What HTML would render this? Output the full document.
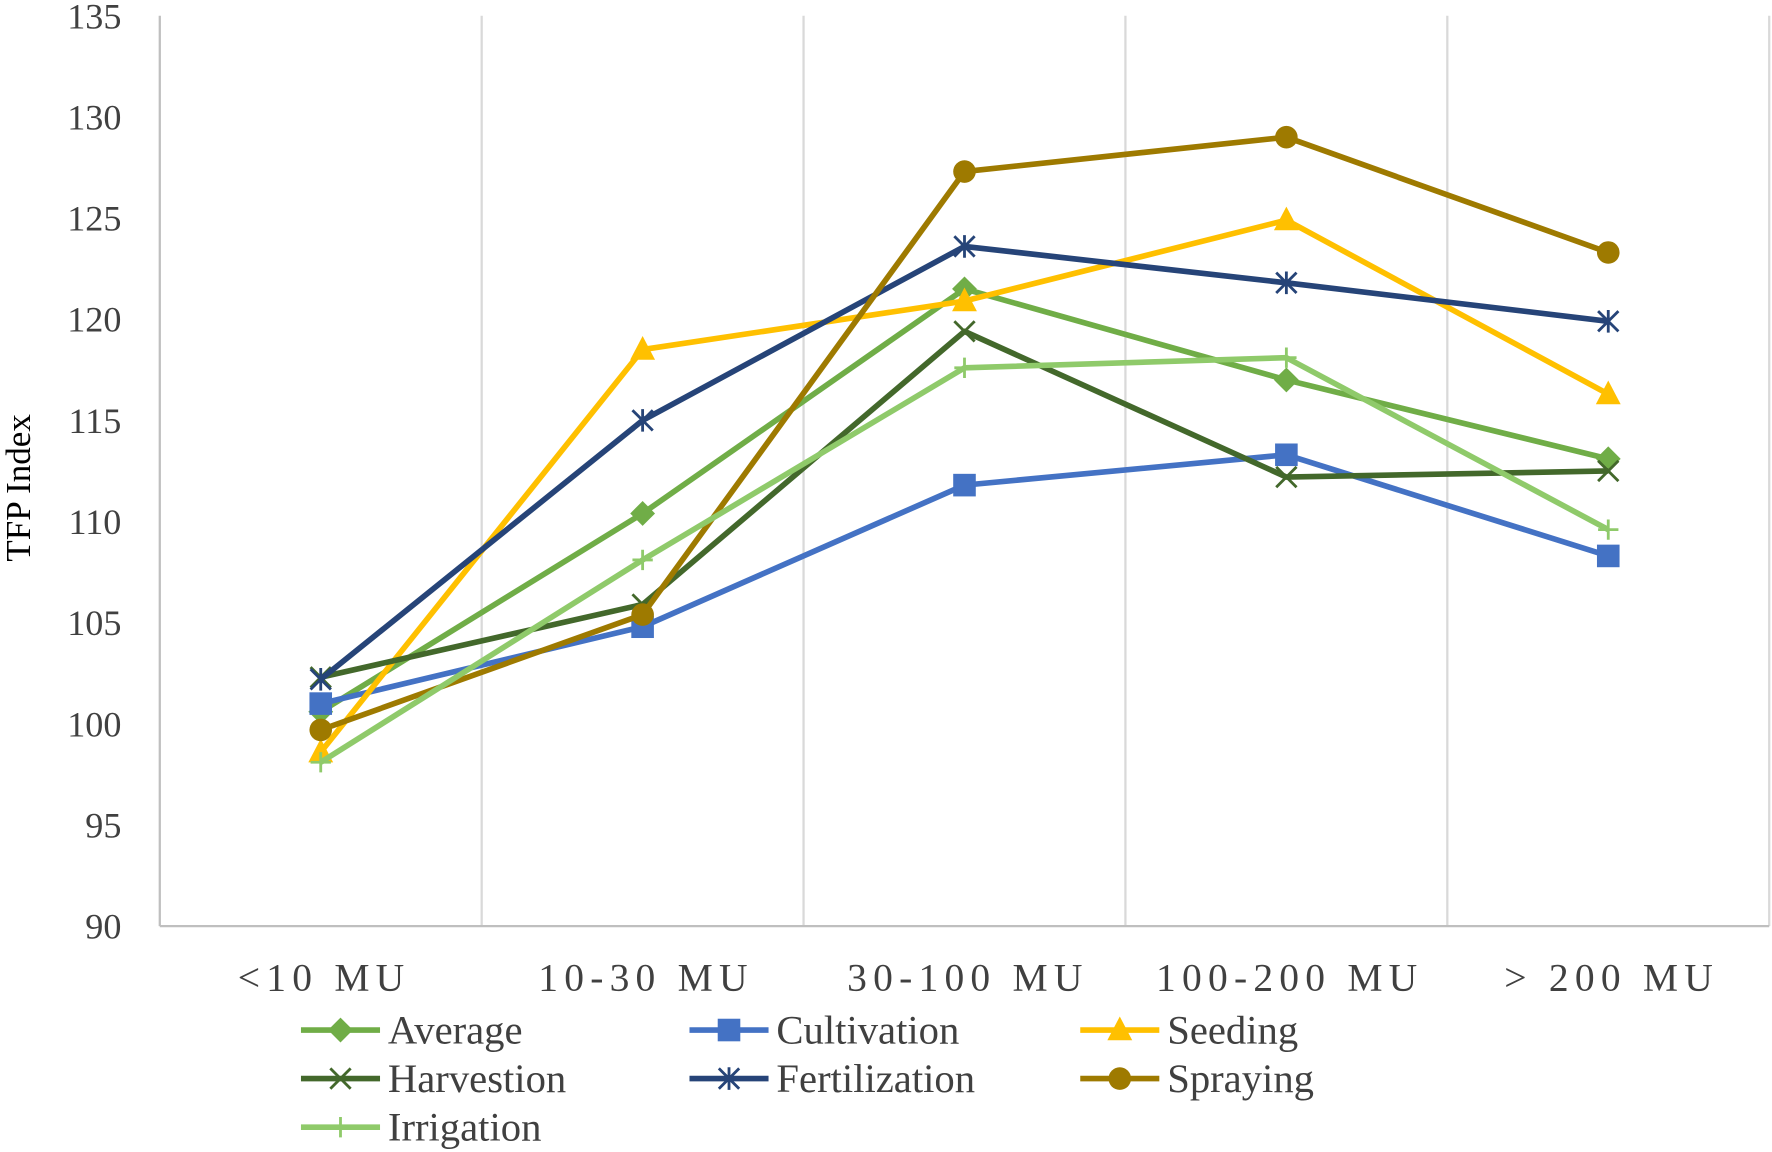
<!DOCTYPE html>
<html><head><meta charset="utf-8"><style>
html,body{margin:0;padding:0;background:#fff;}
svg{display:block;font-family:"Liberation Serif",serif;}
</style></head><body>
<svg id="chart" width="1772" height="1152" viewBox="0 0 1568 1020" xmlns="http://www.w3.org/2000/svg">
<g id="grid"></g>
<g id="axes"></g>
<g id="series"></g>
<g id="legend"></g>
<text transform="translate(26,432) rotate(-90)" text-anchor="middle" font-size="31">TFP Index</text>
</svg>
<script>
const categories = ["<10 MU","10-30 MU","30-100 MU","100-200 MU","> 200 MU"];
const yTicks = [90,95,100,105,110,115,120,125,130,135];
const seriesNames = ["Average","Cultivation","Seeding","Harvestion","Fertilization","Spraying","Irrigation"];
const avgValues = [100.6,110.4,121.5,117.0,113.1];
const cultivationValues = [101.0,104.8,111.8,113.3,108.3];
const seedingValues = [98.6,118.5,120.9,124.9,116.3];
const harvestionValues = [102.3,105.9,119.4,112.2,112.5];
const fertilizationValues = [102.2,115.0,123.6,121.8,119.9];
const sprayingValues = [99.7,105.4,127.3,129.0,123.3];
const irrigationValues = [98.1,108.1,117.6,118.1,109.6];

const NS="http://www.w3.org/2000/svg";
const L=141,R=1566,T=14,B=820,yMin=90,yMax=135;
const bw=(R-L)/categories.length;
const xS=i=>L+bw*(i+0.5);
const yS=v=>B-(v-yMin)/(yMax-yMin)*(B-T);
function mk(tag,attrs,parent){const e=document.createElementNS(NS,tag);for(const k in attrs)e.setAttribute(k,attrs[k]);parent.appendChild(e);return e;}
const grid=document.getElementById('grid'),axes=document.getElementById('axes'),sg=document.getElementById('series'),lg=document.getElementById('legend');
for(let i=0;i<=categories.length;i++){
  const x=L+bw*i;
  const ln=mk('line',{x1:x,x2:x,y1:T,y2:B,stroke:i==0?'#bfbfbf':'#d9d9d9','stroke-width':2},grid);
  
  
}
const xa=mk('line',{x1:L,x2:R,y1:B,y2:B,stroke:'#bfbfbf','stroke-width':2},axes);


yTicks.forEach(v=>{
  const t=mk('text',{x:107,y:yS(v)+11,'text-anchor':'end','font-size':32,fill:'#404040'},axes);
  t.textContent=v;
  
  
});
categories.forEach((c,i)=>{
  const t=mk('text',{x:xS(i)+3,y:877,'text-anchor':'middle','font-size':35,'letter-spacing':5.5,fill:'#404040'},axes);
  t.textContent=c;
  
  
});
const colors=["#70AD47","#4472C4","#FFC000","#43682B","#264478","#9E7A00","#8FCA6A"];
const markers=["diamond","square","triangle","x","star","circle","plus"];
const values=[avgValues,cultivationValues,seedingValues,harvestionValues,fertilizationValues,sprayingValues,irrigationValues];
function marker(type,x,y,c,p){
  let e;
  if(type=='diamond')e=mk('path',{d:`M${x},${y-11}L${x+11},${y}L${x},${y+11}L${x-11},${y}Z`,fill:c},p);
  else if(type=='square')e=mk('rect',{x:x-10,y:y-10,width:20,height:20,fill:c},p);
  else if(type=='triangle')e=mk('path',{d:`M${x},${y-12}L${x+11},${y+9}L${x-11},${y+9}Z`,fill:c},p);
  else if(type=='circle')e=mk('circle',{cx:x,cy:y,r:10,fill:c},p);
  else if(type=='x')e=mk('path',{d:`M${x-9},${y-9}L${x+9},${y+9}M${x+9},${y-9}L${x-9},${y+9}`,stroke:c,'stroke-width':2.5},p);
  else if(type=='plus')e=mk('path',{d:`M${x-9},${y}L${x+9},${y}M${x},${y-9}L${x},${y+9}`,stroke:c,'stroke-width':2.5},p);
  else e=mk('path',{d:`M${x-9},${y-9}L${x+9},${y+9}M${x+9},${y-9}L${x-9},${y+9}M${x},${y-10}L${x},${y+10}`,stroke:c,'stroke-width':2.5},p);
  return e;
}
seriesNames.forEach((n,s)=>{
  const g=mk('g',{},sg);
  
  
  const pl=mk('polyline',{points:values[s].map((v,i)=>xS(i)+','+yS(v)).join(' '),fill:'none',stroke:colors[s],'stroke-width':5,'stroke-linejoin':'round'},g);
  
  
  values[s].forEach((v,i)=>{
    const m=marker(markers[s],xS(i),yS(v),colors[s],g);
    
    
  });
  const col=s%3,row=Math.floor(s/3);
  const lx=[266,610,956][col],ly=912+row*43;
  const le=mk('g',{},lg);
  
  
  mk('line',{x1:lx,x2:lx+70,y1:ly,y2:ly,stroke:colors[s],'stroke-width':5},le);
  marker(markers[s],lx+35,ly,colors[s],le);
  const t=mk('text',{x:lx+77,y:ly+12,'font-size':36,fill:'#404040'},le);
  t.textContent=n;
});
</script>
</body></html>
